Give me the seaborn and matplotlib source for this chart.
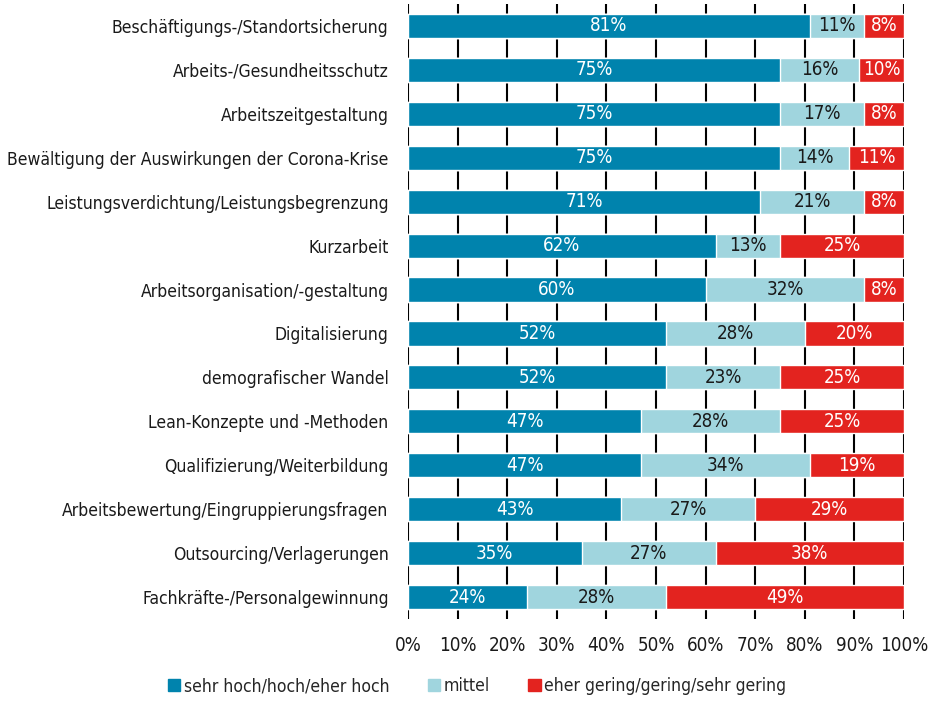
import numpy as np
import pandas as pd
import matplotlib
matplotlib.use('Agg')
import matplotlib.pyplot as plt
import seaborn as sns
from matplotlib.patches import Patch

# Daten
kategorien = ['Beschäftigungs-/Standortsicherung', 'Arbeits-/Gesundheitsschutz',
              'Arbeitszeitgestaltung', 'Bewältigung der Auswirkungen der Corona-Krise',
              'Leistungsverdichtung/Leistungsbegrenzung', 'Kurzarbeit',
              'Arbeitsorganisation/-gestaltung', 'Digitalisierung', 'demografischer Wandel',
              'Lean-Konzepte und -Methoden', 'Qualifizierung/Weiterbildung',
              'Arbeitsbewertung/Eingruppierungsfragen', 'Outsourcing/Verlagerungen',
              'Fachkräfte-/Personalgewinnung']
hoch = [81, 75, 75, 75, 71, 62, 60, 52, 52, 47, 47, 43, 35, 24]
mittel = [11, 16, 17, 14, 21, 13, 32, 28, 23, 28, 34, 27, 27, 28]
gering = [8, 10, 8, 11, 8, 25, 8, 20, 25, 25, 19, 29, 38, 49]
legende = ['sehr hoch/hoch/eher hoch', 'mittel', 'eher gering/gering/sehr gering']

c_hoch = '#0083AD'
c_mittel = '#A0D5DE'
c_gering = '#E3231F'

sns.set_style('white')
plt.rcParams['font.family'] = ['DejaVu Sans']
plt.rcParams['font.stretch'] = 'condensed'

df = pd.DataFrame({'Kategorie': kategorien, 'hoch': hoch, 'mittel': mittel, 'gering': gering})
df['cum1'] = df['hoch']
df['cum2'] = df['hoch'] + df['mittel']
# Anteile summieren sich (gerundet) auf 100 % -> roter Balken bis 100 %
df['cum3'] = 100

fig = plt.figure(figsize=(9.32, 7.06), dpi=100)
ax = fig.add_axes([0.4378, 0.1232, 0.5322, 0.8711])

sns.barplot(data=df, y='Kategorie', x='cum3', color=c_gering, orient='h', width=0.55,
            saturation=1, ax=ax)
sns.barplot(data=df, y='Kategorie', x='cum2', color=c_mittel, orient='h', width=0.55,
            saturation=1, ax=ax)
sns.barplot(data=df, y='Kategorie', x='cum1', color=c_hoch, orient='h', width=0.55,
            saturation=1, ax=ax)

# Beschriftungen
fs = 13.5
for i, row in df.iterrows():
    ax.text(row['cum1'] / 2, i, f"{row['hoch']}%", ha='center', va='center',
            color='white', fontsize=fs)
    ax.text((row['cum1'] + row['cum2']) / 2, i, f"{row['mittel']}%", ha='center',
            va='center', color='#1a1a1a', fontsize=fs)
    ax.text((row['cum2'] + row['cum3']) / 2, i, f"{row['gering']}%", ha='center',
            va='center', color='white', fontsize=fs)

ax.set_xlim(0, 100)
ax.set_xticks(np.arange(0, 101, 10))
ax.set_xticklabels([f'{v}%' for v in range(0, 101, 10)], fontsize=fs, color='#1a1a1a')
ax.tick_params(axis='y', labelsize=12.6, labelcolor='#1a1a1a', length=0, pad=14)
ax.tick_params(axis='x', length=0, pad=12)
ax.set_xlabel('')
ax.set_ylabel('')
ax.xaxis.grid(True, color='black', linewidth=1.5)
ax.set_axisbelow(True)
for s in ax.spines.values():
    s.set_visible(False)

handles = [Patch(color=c_hoch), Patch(color=c_mittel), Patch(color=c_gering)]
fig.legend(handles, legende, loc='lower center', bbox_to_anchor=(0.512, -0.007), ncol=3,
           frameon=False, fontsize=12.6, handlelength=0.7, handleheight=0.7,
           handletextpad=0.2, columnspacing=2.2)

plt.savefig('out.png', dpi=100)
